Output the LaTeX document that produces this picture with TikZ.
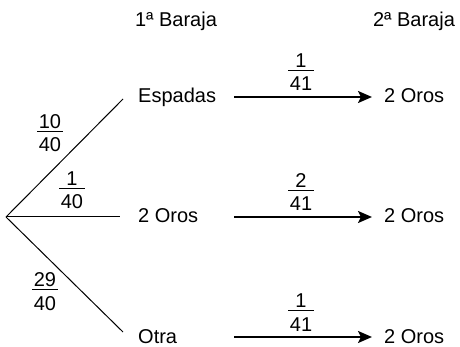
\documentclass[tikz,border=0pt]{standalone}
\usepackage{fontspec}
\setmainfont{Liberation Sans}
\usetikzlibrary{arrows.meta}
\setlength\arrayrulewidth{1.1pt}
\newcommand\fr[2]{\begin{tabular}[b]{@{\hspace{1.5pt}}c@{\hspace{1.5pt}}}#1\\[-5pt]\hline\rule{0pt}{20pt}#2\end{tabular}}
\begin{document}
\begin{tikzpicture}[x=1pt,y=-1pt,
  txt/.style={font=\fontsize{20}{24}\selectfont, inner sep=0pt},
  branch/.style={line width=1pt},
  arr/.style={line width=2.3pt, -{Stealth[length=14pt,width=12pt,inset=3pt]}}]
\useasboundingbox (0,0) rectangle (460,347);
% headers
\node[txt, anchor=base] (h1) at (176,27) {1ª Baraja};
\node[txt, anchor=base] (h2) at (414,27) {2ª Baraja};
% first draw
\node[txt, anchor=base west] (e1) at (138,103) {Espadas};
\node[txt, anchor=base west] (m1) at (138,223) {2 Oros};
\node[txt, anchor=base west] (o1) at (138,343) {Otra};
% second draw
\node[txt, anchor=base west] (r1) at (384,103) {2 Oros};
\node[txt, anchor=base west] (r2) at (384,223) {2 Oros};
\node[txt, anchor=base west] (r3) at (384,343) {2 Oros};
% tree
\coordinate (root) at (6,217);
\coordinate (t1) at (123,99);
\coordinate (t2) at (120,217);
\coordinate (t3) at (123,332);
\draw[branch] (root) -- (t1);
\draw[branch] (root) -- (t2);
\draw[branch] (root) -- (t3);
\node[txt, anchor=base] (f1) at (50,152) {\fr{10}{40}};
\node[txt, anchor=base] (f2) at (72,209) {\fr{1}{40}};
\node[txt, anchor=base] (f3) at (45,310) {\fr{29}{40}};
% arrows
\coordinate (a1) at (234,97);  \coordinate (b1) at (372,97);
\coordinate (a2) at (234,217); \coordinate (b2) at (372,217);
\coordinate (a3) at (234,337); \coordinate (b3) at (372,337);
\draw[arr] (a1) -- (b1);
\draw[arr] (a2) -- (b2);
\draw[arr] (a3) -- (b3);
\node[txt, anchor=base] (g1) at (301,91) {\fr{1}{41}};
\node[txt, anchor=base] (g2) at (301,211) {\fr{2}{41}};
\node[txt, anchor=base] (g3) at (301,331) {\fr{1}{41}};
\end{tikzpicture}
\end{document}
